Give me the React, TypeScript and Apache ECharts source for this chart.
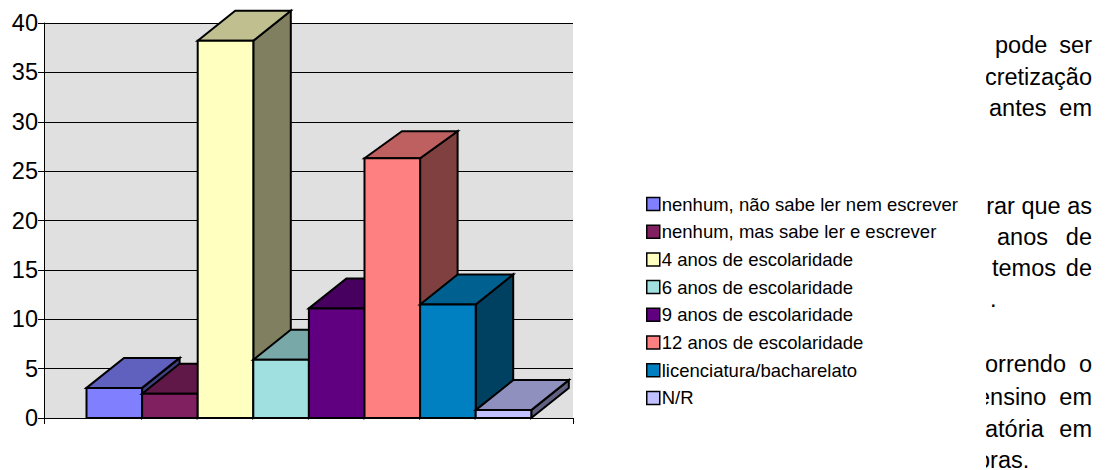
import React, { useEffect, useRef } from "react";
import * as echarts from "echarts";

const seriesNames = [
  "nenhum, não sabe ler nem escrever",
  "nenhum, mas sabe ler e escrever",
  "4 anos de escolaridade",
  "6 anos de escolaridade",
  "9 anos de escolaridade",
  "12 anos de escolaridade",
  "licenciatura/bacharelato",
  "N/R",
];
const seriesValues = [3.05, 2.45, 38.2, 5.9, 11.1, 26.3, 11.5, 0.8];
const seriesColors = ["#8080ff", "#802060", "#ffffc0", "#a0e0e0", "#600080", "#ff8080", "#0080c0", "#c0c0ff"];
const yTicks = { min: 0, max: 40, step: 5 };

// clipped fragments of the document's body text, to the right of the chart
const textRows: { y: number; left?: string; right: string; leftX?: number }[] = [
  { y: 45, left: "pode", leftX: 995, right: "ser" },
  { y: 77, right: "cretização" },
  { y: 108, left: "antes", leftX: 989, right: "em" },
  { y: 206, right: "rar que as" },
  { y: 237, left: "anos", leftX: 997, right: "de" },
  { y: 268, left: "temos", leftX: 992, right: "de" },
  { y: 299, left: ".", leftX: 990, right: "" },
  { y: 364, left: "orrendo", leftX: 985, right: "o" },
  { y: 397, left: "ensino", leftX: 977, right: "em" },
  { y: 429, left: "atória", leftX: 985, right: "em" },
  { y: 460, left: "oras.", leftX: 977, right: "" },
];

const BAR_FRACTION = 55.6 / 529;
const DEPTH_X = 37.5;
const DEPTH_Y = [30, 30, 30, 30, 30, 27, 30, 30];

function shade(hex: string, k: number) {
  const n = parseInt(hex.slice(1), 16);
  const c = [(n >> 16) & 255, (n >> 8) & 255, n & 255].map((v) => Math.round(v * k));
  return `rgb(${c[0]},${c[1]},${c[2]})`;
}

function bar3d(index: number) {
  return (_params: any, api: any) => {
    const center = api.coord([0, api.value(1)]);
    const base = api.coord([0, 0]);
    const w = api.size([1, 0])[0] * BAR_FRACTION;
    const x0 = center[0] + (index - seriesValues.length / 2) * w + 0.4;
    const x1 = x0 + w;
    const yT = center[1];
    const yB = base[1];
    const dy = DEPTH_Y[index];
    const color = seriesColors[index];
    const line = { stroke: "#000", lineWidth: 2, lineJoin: "miter" };
    return {
      type: "group",
      children: [
        {
          type: "polygon",
          shape: { points: [[x1, yT], [x1 + DEPTH_X, yT - dy], [x1 + DEPTH_X, yB - dy], [x1, yB]] },
          style: { fill: shade(color, 0.5), ...line },
        },
        {
          type: "polygon",
          shape: { points: [[x0, yT], [x0 + DEPTH_X, yT - dy], [x1 + DEPTH_X, yT - dy], [x1, yT]] },
          style: { fill: shade(color, 0.75), ...line },
        },
        {
          type: "rect",
          shape: { x: x0, y: yT, width: w, height: yB - yT },
          style: { fill: color, ...line },
        },
      ],
    };
  };
}

export default function App() {
  const ref = useRef<HTMLDivElement>(null);
  useEffect(() => {
    const chart = echarts.init(ref.current!, null, { renderer: "svg" });
    const font = "'Liberation Sans', Arial, sans-serif";
    const textStyle = { fontFamily: font, fontSize: 23.5, lineHeight: 18, fill: "#000" };
    const graphics: any[] = [];
    textRows.forEach((r) => {
      if (r.left) {
        graphics.push({
          type: "text", x: r.leftX, y: r.y, z: 10,
          style: { ...textStyle, text: r.left, textAlign: "left", textVerticalAlign: "middle" },
        });
      }
      if (r.right) {
        graphics.push({
          type: "text", x: 1092, y: r.y, z: 10,
          style: { ...textStyle, text: r.right, textAlign: "right", textVerticalAlign: "middle" },
        });
      }
    });
    graphics.push({
      type: "rect", z: 11,
      shape: { x: 962, y: 0, width: 24, height: 470 },
      style: { fill: "#fff" },
    });
    chart.setOption({
      animation: false,
      backgroundColor: "#fff",
      grid: { left: 44, right: 535, top: 23, bottom: 52, show: true, backgroundColor: "#e0e0e0", borderWidth: 0 },
      xAxis: {
        type: "category",
        data: [""],
        axisLine: { lineStyle: { color: "#000", width: 1 } },
        axisTick: { show: true, length: 6, lineStyle: { color: "#000" } },
        axisLabel: { show: false },
      },
      yAxis: {
        type: "value",
        min: yTicks.min,
        max: yTicks.max,
        interval: yTicks.step,
        axisLine: { show: true, lineStyle: { color: "#000", width: 1 } },
        axisTick: { show: true, length: 6, lineStyle: { color: "#000" } },
        axisLabel: { color: "#000", fontFamily: font, fontSize: 23.5, margin: 6 },
        splitLine: { show: true, lineStyle: { color: "#000", width: 1 } },
      },
      legend: {
        show: true,
        orient: "vertical",
        left: 646,
        top: 194.5,
        itemWidth: 13,
        itemHeight: 13,
        itemGap: 8.7,
        icon: "rect",
        padding: 0,
        data: seriesNames,
        itemStyle: { borderColor: "#000", borderWidth: 1.5 },
        textStyle: { color: "#000", fontFamily: font, fontSize: 18.5, lineHeight: 16, padding: [0, 0, 0, -3] },
      },
      series: seriesNames.map((name, i) => ({
        type: "custom",
        name,
        renderItem: bar3d(i),
        encode: { x: 0, y: 1 },
        data: [[0, seriesValues[i]]],
        itemStyle: { color: seriesColors[i] },
      })),
      graphic: graphics,
    });
    return () => chart.dispose();
  }, []);
  return <div ref={ref} style={{ position: "absolute", left: 0, top: 0, width: 1108, height: 470 }} />;
}
